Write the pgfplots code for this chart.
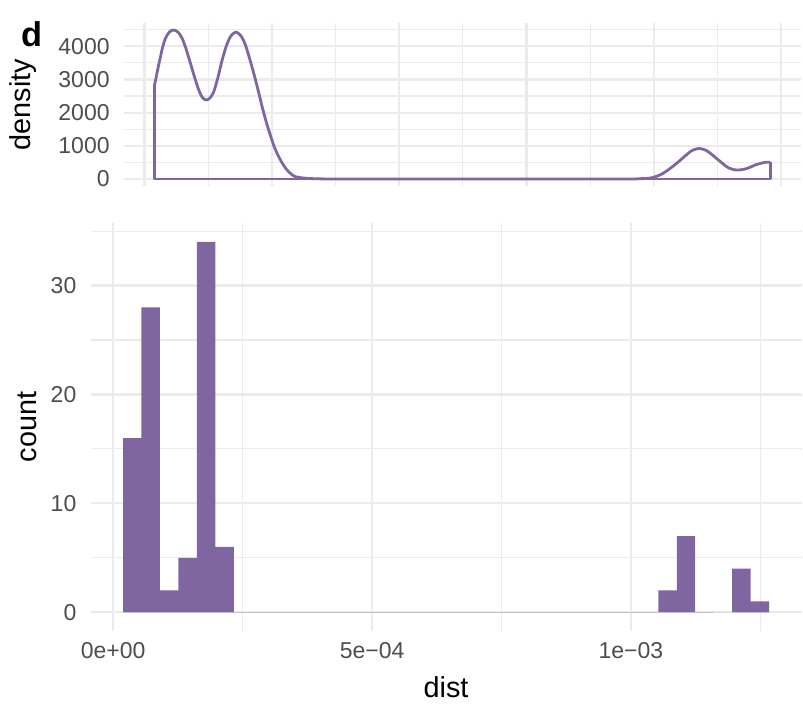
\documentclass[border=0pt]{standalone}
\usepackage{pgfplots}
\pgfplotsset{compat=1.18}
\usepackage{fontspec}
\setmainfont{Liberation Sans}

\definecolor{violet}{HTML}{8066A1}
\definecolor{zerobar}{HTML}{CFC6DD}
\definecolor{gridc}{HTML}{EBEBEB}
\definecolor{ticktext}{HTML}{4D4D4D}

\pgfplotsset{
  ggmin/.style={
    scale only axis,
    axis line style={draw=none},
    tick style={draw=none},
    major tick length=0pt, minor tick length=0pt,
    grid=both,
    major grid style={color=gridc, line width=1.1pt},
    minor grid style={color=gridc, line width=0.55pt},
    scaled ticks=false,
    /pgf/number format/assume math mode=true,
    /pgf/number format/1000 sep={},
    tick label style={font=\fontsize{11.5}{13}\selectfont, text=ticktext, inner sep=0pt},
    yticklabel style={anchor=east, xshift=-7pt},
    xticklabel style={anchor=north, yshift=-5.5pt},
  }
}

\begin{document}
\begin{tikzpicture}
\useasboundingbox (0,0) rectangle (401.5pt,352pt);

% density panel (x in units of 1e-4)
\begin{axis}[ggmin,
  at={(62pt,258.75pt)}, anchor=south west,
  width=338.5pt, height=81.95pt,
  xmin=-0.402, xmax=12.888, ymin=-224, ymax=4712,
  xtick={0,2.5,5,7.5,10,12.5}, minor xtick={1.25,3.75,6.25,8.75,11.25},
  xticklabels={},
  ytick={0,1000,2000,3000,4000}, minor ytick={500,1500,2500,3500,4500},
]
\addplot[violet, line width=1.4pt, line join=round] coordinates {
  (12.2841,500) (12.2841,0) (0.2021,0) (0.2021,2861) };
\addplot[violet, line width=1.4pt, smooth, tension=0.5] coordinates {
  (0.2021,2861) (0.26,3300) (0.314,3684) (0.36,3990) (0.412,4237)
  (0.49,4430) (0.575,4488) (0.66,4420) (0.74,4237) (0.82,3900)
  (0.903,3484) (0.985,3060) (1.066,2680) (1.14,2450) (1.217,2380)
  (1.29,2450) (1.36,2630) (1.44,3050) (1.525,3584) (1.61,4020)
  (1.688,4287) (1.75,4390) (1.81,4420) (1.90,4300) (1.982,4036)
  (2.06,3650) (2.145,3184) (2.23,2680) (2.31,2178) (2.39,1720)
  (2.47,1325) (2.55,960) (2.635,672) (2.72,440) (2.80,271)
  (2.88,150) (2.963,70) (3.1,35) (3.257,15) (3.45,6) (3.65,2)
  (4.04,0) (6.5,0) (9.34,0) (9.7,10) (9.93,30) (10.13,130)
  (10.32,320) (10.52,570) (10.71,820) (10.80,890) (10.89,920)
  (10.98,890) (11.07,820) (11.27,570) (11.43,370) (11.53,300)
  (11.63,270) (11.73,285) (11.83,320) (12.02,440) (12.19,505)
  (12.2841,500) };
\end{axis}

% histogram panel (x in units of 1e-4)
\begin{axis}[ggmin,
  at={(45.35pt,36.6pt)}, anchor=south west,
  width=355.4pt, height=203.65pt,
  xmin=-0.434, xmax=13.294, ymin=-1.7, ymax=35.7,
  xtick={0,5,10}, minor xtick={2.5,7.5,12.5},
  xticklabels={0e+00,5e−04,1e−03},
  ytick={0,10,20,30}, minor ytick={5,15,25,35},
]
\addplot[zerobar, line width=0.7pt] coordinates {(2.329,0) (10.5285,0)};
\addplot[zerobar, line width=0.7pt] coordinates {(11.2415,0) (11.598,0)};
\addplot[ybar interval, fill=violet, draw=none] coordinates {
  (0.1900,16) (0.5465,28) (0.9030,2) (1.2595,5) (1.6160,34) (1.9725,6)
  (2.3290,0) (2.6855,0) (3.0420,0) (3.3985,0) (3.7550,0) (4.1115,0)
  (4.4680,0) (4.8245,0) (5.1810,0) (5.5375,0) (5.8940,0) (6.2505,0)
  (6.6070,0) (6.9635,0) (7.3200,0) (7.6765,0) (8.0330,0) (8.3895,0)
  (8.7460,0) (9.1025,0) (9.4590,0) (9.8155,0) (10.1720,0) (10.5285,2)
  (10.8850,7) (11.2415,0) (11.5980,0) (11.9545,4) (12.3110,1) (12.6675,1) };
\end{axis}

\node[font=\fontsize{17.2}{19}\selectfont\bfseries, anchor=base west] at (7pt,328.5pt) {d};
\node[font=\fontsize{14.4}{16}\selectfont, rotate=90, anchor=base] at (15.35pt,299.7pt) {density};
\node[font=\fontsize{14.4}{16}\selectfont, rotate=90, anchor=base] at (18.35pt,138.5pt) {count};
\node[font=\fontsize{14.4}{16}\selectfont, anchor=base] at (223pt,3pt) {dist};
\end{tikzpicture}
\end{document}
